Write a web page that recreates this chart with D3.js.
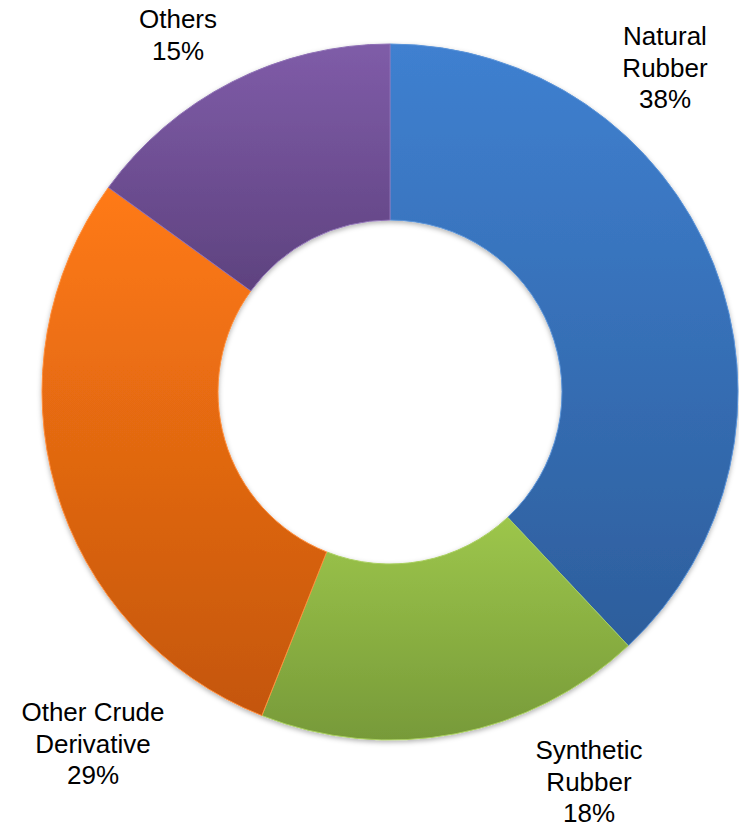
<!DOCTYPE html>
<html><head><meta charset="utf-8">
<script src="https://cdn.jsdelivr.net/npm/d3@7"></script>
<style>html,body{margin:0;padding:0;background:#fff;}svg{display:block;}</style>
</head><body>
<svg id="chart" width="739" height="827"></svg>
<script>
const categories = ["Natural Rubber", "Synthetic Rubber", "Other Crude Derivative", "Others"];
const values = [38, 18, 29, 15];
const labelLines = [["Natural", "Rubber", "38%"], ["Synthetic", "Rubber", "18%"], ["Other Crude", "Derivative", "29%"], ["Others", "15%"]];
const colorsTop = ["#3F80D0", "#9DC64B", "#FF7A14", "#7F5CA8"];
const colorsBottom = ["#2D5E9C", "#779A39", "#C4560E", "#5E427F"];
const edgeColors = ["#5A93D8", "#A9CF5F", "#FF8D3A", "#8E70B5"];

const svg = d3.select("#chart");
const cx = 390, cy = 392, outerR = 348, innerR = 172;

const defs = svg.append("defs");
categories.forEach((c, i) => {
  const g = defs.append("linearGradient").attr("id", "grad" + i)
    .attr("x1", 0).attr("y1", 0).attr("x2", 0).attr("y2", 1);
  g.append("stop").attr("offset", "0%").attr("stop-color", colorsTop[i]);
  g.append("stop").attr("offset", "100%").attr("stop-color", colorsBottom[i]);
});
const f = defs.append("filter").attr("id", "shadow").attr("x", "-10%").attr("y", "-10%").attr("width", "120%").attr("height", "120%");
f.append("feDropShadow").attr("dx", 0).attr("dy", 2).attr("stdDeviation", 2.5).attr("flood-color", "#000").attr("flood-opacity", 0.3);

const pie = d3.pie().sort(null).value(d => d);
const arcs = pie(values);
const arc = d3.arc().innerRadius(innerR).outerRadius(outerR);

const g = svg.append("g").attr("transform", `translate(${cx},${cy})`);
g.append("g").attr("filter", "url(#shadow)")
  .selectAll("path").data(arcs).join("path")
  .attr("d", arc)
  .attr("fill", (d, i) => `url(#grad${i})`)
  .attr("stroke", (d, i) => edgeColors[i])
  .attr("stroke-width", 1);

const labelPos = [[665, 45], [589, 759], [93, 721], [178, 28]];
const lineH = 31.5;
arcs.forEach((d, i) => {
  const t = svg.append("text")
    .attr("text-anchor", "middle")
    .attr("font-family", "Liberation Sans, Arial, sans-serif")
    .attr("font-size", 26)
    .attr("fill", "#000");
  labelLines[i].forEach((ln, j) => {
    t.append("tspan").attr("x", labelPos[i][0]).attr("y", labelPos[i][1] + j * lineH).text(ln);
  });
});
</script>
</body></html>
